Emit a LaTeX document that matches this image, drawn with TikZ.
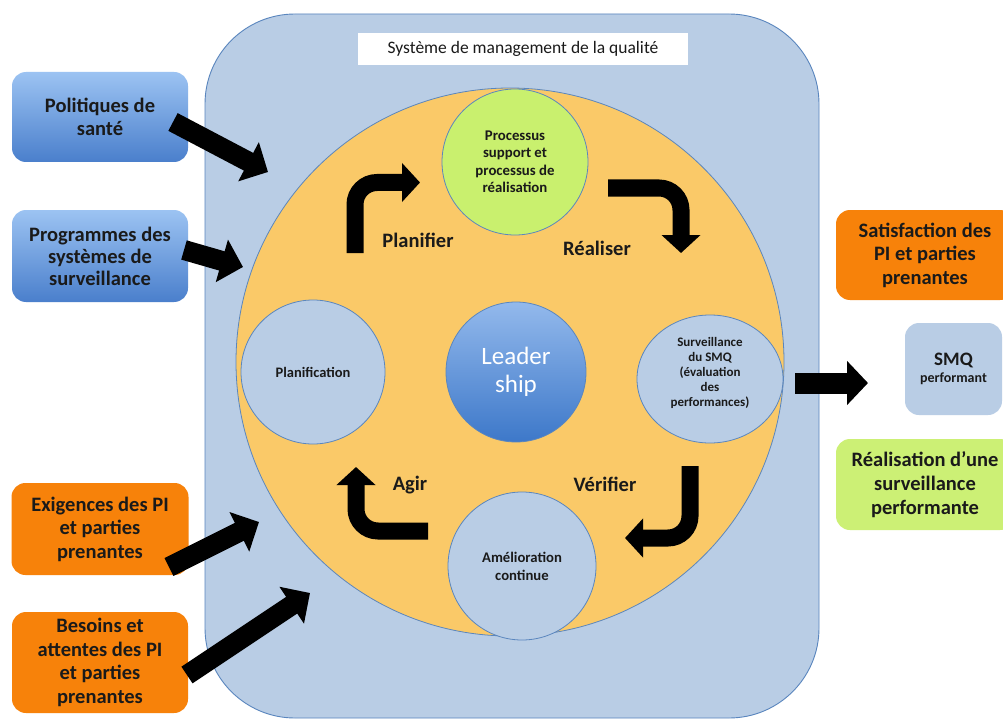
\documentclass[tikz,border=0pt]{standalone}
\usepackage{fontspec}
\setmainfont{Carlito}
\usetikzlibrary{arrows.meta,shapes.geometric}
\definecolor{sysblue}{HTML}{B9CDE5}
\definecolor{edgeblue}{HTML}{5A86BE}
\definecolor{cyclefill}{HTML}{FAC968}
\definecolor{greencirc}{HTML}{C9F06E}
\definecolor{boxorange}{HTML}{F7820A}
\definecolor{boxgreen}{HTML}{CCF075}
\definecolor{boxbluetop}{HTML}{9CC3F2}
\definecolor{boxbluebot}{HTML}{4A7FCC}
\definecolor{leadtop}{HTML}{93B9EC}
\definecolor{leadbot}{HTML}{3D78C9}
\definecolor{ink}{HTML}{1A1A1A}
\begin{document}
\begin{tikzpicture}[x=1pt,y=-1pt,
  every node/.style={inner sep=0pt, outer sep=0pt, text=ink},
  inbox/.style={rounded corners=14pt, align=center, font=\bfseries\fontsize{20.5}{23.5}\selectfont},
  bluebox/.style={inbox, top color=boxbluetop, bottom color=boxbluebot},
  orangebox/.style={inbox, fill=boxorange},
  fat/.style={line width=20pt, -{Triangle[width=43pt,length=22pt]}},
  bent/.style={line width=17pt, rounded corners=22pt, -{Triangle[width=38pt,length=18pt]}},
  stage/.style={draw=edgeblue, line width=0.8pt, fill=sysblue, align=center},
  verb/.style={font=\bfseries\fontsize{20.5}{22}\selectfont}
]
\clip (0,0) rectangle (1003,722);
\fill[white] (0,0) rectangle (1003,722);

% system region
\node[draw=edgeblue, line width=0.9pt, fill=sysblue, rounded corners=90pt,
      minimum width=614pt, minimum height=704pt] (sys) at (512,366) {};
\node[fill=white, minimum width=330pt, minimum height=32pt,
      font=\fontsize{17.5}{18}\selectfont] (title) at (523,49) {Système de management de la qualité};

% cycle
\node[circle, draw=edgeblue, line width=0.8pt, fill=cyclefill, minimum size=548pt] (cycle) at (510,362) {};

\node[stage, circle, fill=greencirc, minimum size=146pt,
      font=\bfseries\fontsize{14.8}{17.5}\selectfont] (real) at (515,162)
      {Processus\\support et\\processus de\\réalisation};
\node[stage, circle, minimum size=144pt,
      font=\bfseries\fontsize{14.5}{15}\selectfont] (plan) at (313,372) {Planification};
\node[stage, ellipse, minimum width=146pt, minimum height=128pt] (surv) at (710,379) {};
\node[align=center, font=\bfseries\fontsize{13}{15}\selectfont] (survtext) at (710,373)
      {Surveillance\\du SMQ\\(évaluation\\des\\performances)};
\node[stage, circle, minimum size=148pt,
      font=\bfseries\fontsize{14.7}{18}\selectfont] (amel) at (522,566) {Amélioration\\continue};
\node[circle, draw=edgeblue, line width=0.8pt, top color=leadtop, bottom color=leadbot,
      minimum size=140pt, align=center, text=white,
      font=\fontsize{25}{28}\selectfont] (lead) at (516,372) {Leader\\ship};

% bent arrows
\coordinate (pa) at (355,253); \coordinate (pb) at (355,182.5); \coordinate (pc) at (420,182.5);
\draw[bent] (pa) -- (pb) -- (pc);
\coordinate (ra) at (608,188); \coordinate (rb) at (681,188); \coordinate (rc) at (681,253);
\draw[bent] (ra) -- (rb) -- (rc);
\coordinate (va) at (690,466); \coordinate (vb) at (690,538); \coordinate (vc) at (625,538);
\draw[bent] (va) -- (vb) -- (vc);
\coordinate (aa) at (428,531); \coordinate (ab) at (356,531); \coordinate (ac) at (356,467);
\draw[bent] (aa) -- (ab) -- (ac);

\node[verb] (planifier) at (418,240) {Planifier};
\node[verb] (realiser) at (597,248) {Réaliser};
\node[verb] (verifier) at (605,484) {Vérifier};
\node[verb] (agir) at (410,485) {Agir};

% input boxes
\node[bluebox, minimum width=176pt, minimum height=90pt] (pol) at (100,117) {Politiques de\\santé};
\node[bluebox, minimum width=176pt, minimum height=92pt, font=\bfseries\fontsize{20.5}{22}\selectfont] (prog) at (100,256)
      {Programmes des\\systèmes de\\surveillance};
\node[orangebox, minimum width=177pt, minimum height=92pt] (exig) at (100,529)
      {Exigences des PI\\et parties\\prenantes};
\node[orangebox, minimum width=176pt, minimum height=101pt] (bes) at (100,662.5)
      {Besoins et\\attentes des PI\\et parties\\prenantes};

% output boxes
\node[orangebox, minimum width=178pt, minimum height=90pt] (sat) at (925,255)
      {Satisfaction des\\PI et parties\\prenantes};
\node[inbox, fill=sysblue, minimum width=97pt, minimum height=92pt,
      font=\bfseries\fontsize{19}{17}\selectfont] (smq) at (953.5,369)
      {SMQ\\{\fontsize{14}{15}\selectfont performant}};
\node[inbox, fill=boxgreen, minimum width=178pt, minimum height=91pt,
      font=\fontsize{20.5}{24}\selectfont\bfseries] (rsurv) at (925,484.5)
      {Réalisation d’une\\surveillance\\performante};

% input / output arrows
\coordinate (t1) at (173,122); \coordinate (h1) at (268,172);
\coordinate (t2) at (184,250); \coordinate (h2) at (243,267);
\coordinate (t3) at (169,567); \coordinate (h3) at (259,522);
\coordinate (t4) at (187,675); \coordinate (h4) at (310,593);
\coordinate (t5) at (795,383); \coordinate (h5) at (868,383);
\draw[fat] (t1) -- (h1);
\draw[fat] (t2) -- (h2);
\draw[fat] (t3) -- (h3);
\draw[fat] (t4) -- (h4);
\draw[line width=21pt, -{Triangle[width=43pt,length=21pt]}] (t5) -- (h5);
\end{tikzpicture}
\end{document}
